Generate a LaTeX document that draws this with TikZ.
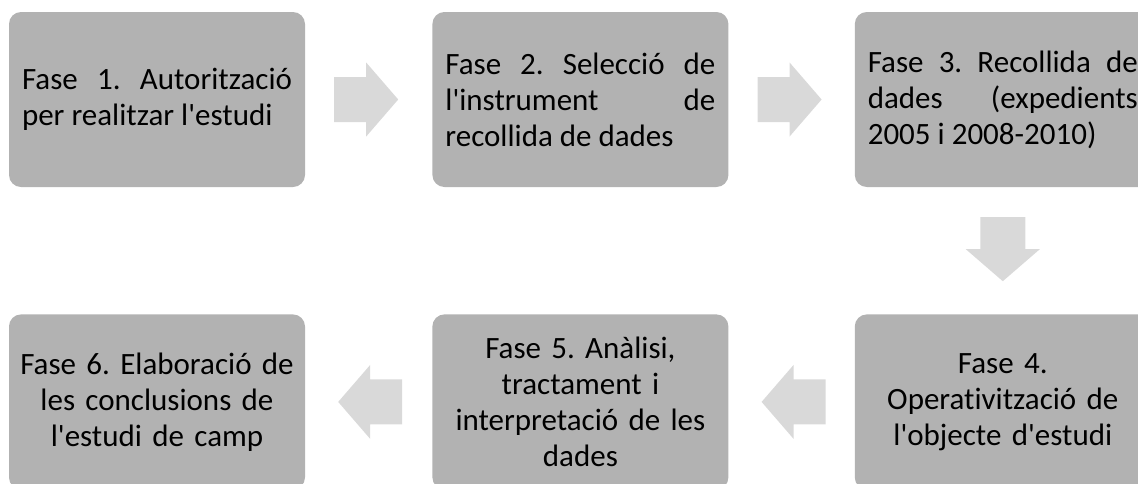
\documentclass[tikz,border=0pt]{standalone}
\usepackage{fontspec}
\setmainfont{Carlito}[Ligatures={TeXOff,NoCommon}]
\usepackage{xcolor}
\usepackage{tikz}
\usetikzlibrary{positioning}

\definecolor{boxgray}{RGB}{178,178,178}
\definecolor{arrowgray}{RGB}{217,217,217}
\hyphenpenalty=10000
\frenchspacing

\tikzset{
  fase/.style={fill=boxgray, rounded corners=12pt, minimum width=296pt,
    minimum height=175pt, font=\fontsize{31}{36}\selectfont},
  faseleft/.style={fase, text width=270pt, inner xsep=13pt, align=justify},
  fasemid/.style={fase, text width=292pt, inner xsep=2pt, align=center},
  blockarrow/.pic={
    \fill[arrowgray] (0,-22.5) -- (32,-22.5) -- (32,-37) -- (64,0)
      -- (32,37) -- (32,22.5) -- (0,22.5) -- cycle;
  }
}

\begin{document}
\begin{tikzpicture}[x=1pt,y=-1pt]
  \useasboundingbox (0,0) rectangle (1138,483);
  % top row
  \node[faseleft] (f1) at (157,99.5) {Fase 1. Autorització\linebreak per realitzar l'estudi};
  \node[faseleft, right=127pt of f1] (f2) {Fase 2. Selecció de\linebreak l'instrument de\linebreak recollida de dades};
  \node[faseleft, right=126pt of f2] (f3) {Fase 3. Recollida de\linebreak dades (expedients\linebreak 2005 i 2008-2010)};
  % bottom row
  \node[fasemid, below=127pt of f3] (f4) {Fase 4.\\ Operativització de\\ l'objecte d'estudi};
  \node[fasemid, left=126pt of f4] (f5) {Fase 5. Anàlisi,\\ tractament i\\ interpretació de les\\ dades};
  \node[fasemid, left=127pt of f5] (f6) {Fase 6. Elaboració de\\ les conclusions de\\ l'estudi de camp};
  % arrows
  \pic at ([xshift=29pt]f1.east) {blockarrow};
  \pic at ([xshift=29pt]f2.east) {blockarrow};
  \pic[rotate=-90] at ([yshift=-30pt]f3.south) {blockarrow};
  \pic[rotate=180] at ([xshift=-29pt]f4.west) {blockarrow};
  \pic[rotate=180] at ([xshift=-30pt]f5.west) {blockarrow};
\end{tikzpicture}
\end{document}
